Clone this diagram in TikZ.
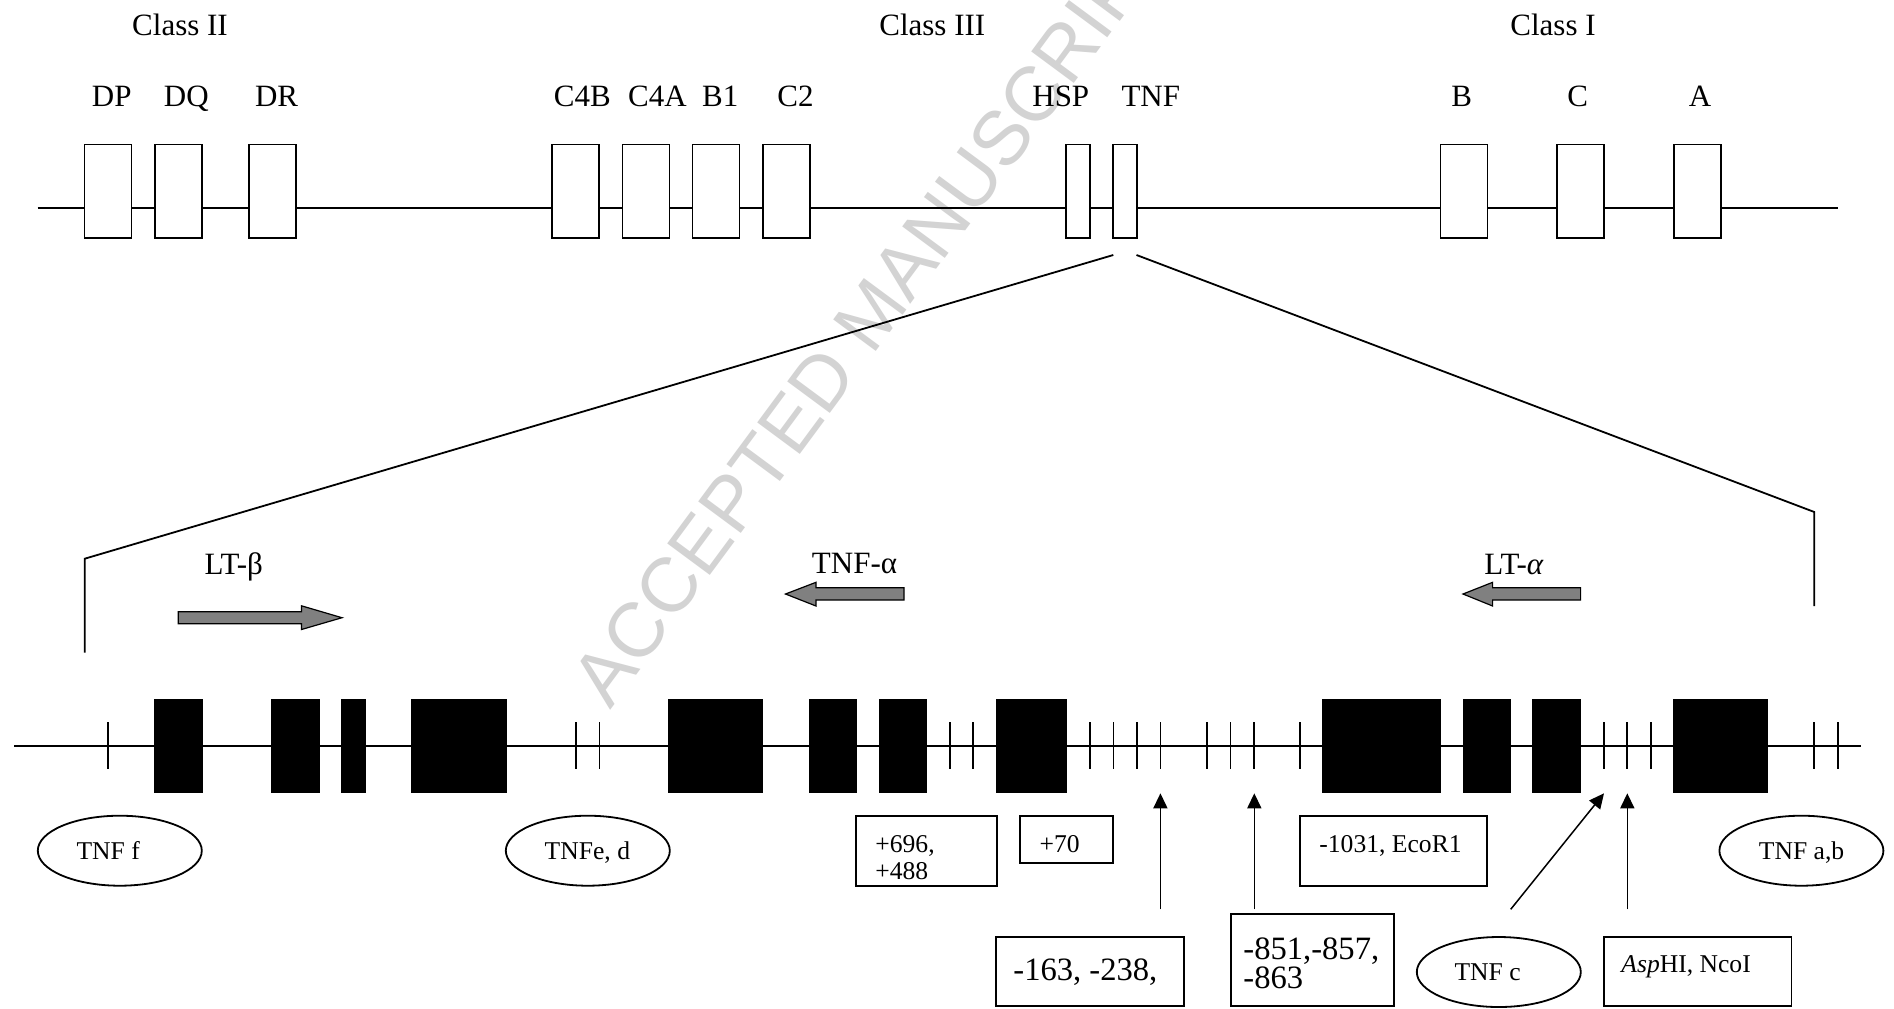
\documentclass[tikz,border=0pt]{standalone}
\usepackage{fontspec}
\setmainfont{Liberation Serif}
\newfontfamily\wmfont{Liberation Sans}
\usetikzlibrary{arrows.meta,shapes.geometric}
\definecolor{arrowgray}{HTML}{808080}
\definecolor{wmgray}{HTML}{D3D3D3}
\begin{document}
\begin{tikzpicture}[x=0.5pt,y=-0.5pt,
  ln/.style={line width=0.9pt},
  gbox/.style={draw, line width=0.8pt, fill=white, minimum height=46.85pt, minimum width=23.5pt, inner sep=0pt},
  nbox/.style={gbox, minimum width=12pt},
  exon/.style={fill=black},
  tickmark/.style={line width=0.85pt},
  toplab/.style={font=\fontsize{15.5pt}{18pt}\selectfont, anchor=base, inner sep=0pt},
  smalllab/.style={font=\fontsize{12.8pt}{15pt}\selectfont, inner sep=0pt},
  biglab/.style={font=\fontsize{16.3pt}{19pt}\selectfont, inner sep=0pt, anchor=base west},
  lbox/.style={draw, line width=0.9pt, inner sep=0pt},
  ell/.style={draw, ellipse, line width=0.9pt, minimum width=82pt, minimum height=35pt, inner sep=0pt},
  garrow/.style={fill=arrowgray, draw=black, line width=0.6pt},
  pin/.style={-{Triangle[length=7.5pt,width=7pt]}, line width=0.75pt}
]
\useasboundingbox (0,0) rectangle (1894,1008);
\clip (0,0) rectangle (1894,1008);
\fill[white] (0,0) rectangle (1894,1008);

% watermark
\node[font=\wmfont\fontsize{38.5pt}{40pt}\selectfont, text=wmgray, rotate=53.5, anchor=base west, inner sep=0pt] (wm) at (610,711) {ACCEPTED MANUSCRIPT};

% ---------- top map ----------
\coordinate (topL) at (37.5,208);
\coordinate (topR) at (1838,208);
\draw[ln] (topL) -- (topR);

\node[gbox] (DP)  at (108.1,191.15) {};
\node[gbox] (DQ)  at (178.2,191.15) {};
\node[gbox] (DR)  at (272.4,191.15) {};
\node[gbox] (C4B) at (575.6,191.15) {};
\node[gbox] (C4A) at (645.8,191.15) {};
\node[gbox] (B1)  at (716,191.15) {};
\node[gbox] (C2)  at (786.2,191.15) {};
\node[nbox] (HSP) at (1078,191.15) {};
\node[nbox] (TNF) at (1125,191.15) {};
\node[gbox] (BB)  at (1463.8,191.15) {};
\node[gbox] (CC)  at (1580.3,191.15) {};
\node[gbox] (AA)  at (1697.2,191.15) {};

\node[toplab] (cl2) at (180,35) {Class II};
\node[toplab] (cl3) at (932.3,35) {Class III};
\node[toplab] (cl1) at (1553,35) {Class I};

\node[toplab] (lDP)  at (111.7,106.7) {DP};
\node[toplab] (lDQ)  at (186.3,106.7) {DQ};
\node[toplab] (lDR)  at (276.6,106.7) {DR};
\node[toplab] (lC4B) at (582.3,106.7) {C4B};
\node[toplab] (lC4A) at (657.4,106.7) {C4A};
\node[toplab] (lB1)  at (720.2,106.7) {B1};
\node[toplab] (lC2)  at (795.5,106.7) {C2};
\node[toplab] (lHSP) at (1060.8,106.7) {HSP};
\node[toplab] (lTNF) at (1150.8,106.7) {TNF};
\node[toplab] (lB)   at (1461.8,106.7) {B};
\node[toplab] (lC)   at (1577.8,106.7) {C};
\node[toplab] (lA)   at (1700,106.7) {A};

% ---------- expansion lines ----------
\coordinate (expL0) at (1113.3,255);
\coordinate (expL1) at (84.7,558.7);
\coordinate (expL2) at (84.7,652.7);
\coordinate (expR0) at (1136.5,255);
\coordinate (expR1) at (1814.3,512);
\coordinate (expR2) at (1814.3,606);
\draw[ln] (expL0) -- (expL1) -- (expL2);
\draw[ln] (expR0) -- (expR1) -- (expR2);

% ---------- gene direction arrows ----------
\draw[garrow] (178.3,611.7) -- (301.5,611.7) -- (301.5,605.8) -- (342,617.7) -- (301.5,629.5) -- (301.5,623.7) -- (178.3,623.7) -- cycle;
\draw[garrow] (904,587.7) -- (816,587.7) -- (816,582.3) -- (785.5,594) -- (816,606) -- (816,600) -- (904,600) -- cycle;
\draw[garrow] (1580.6,587.7) -- (1492.6,587.7) -- (1492.6,582.3) -- (1463,594) -- (1492.6,606) -- (1492.6,600) -- (1580.6,600) -- cycle;

\node[toplab] (ltb) at (233.7,574) {LT-β};
\node[toplab] (tnfa) at (854.5,573.3) {TNF-α};
\node[toplab] (lta) at (1513.8,574) {LT-{\itshape α}};

% ---------- bottom map ----------
\coordinate (botL) at (14,745.7);
\coordinate (botR) at (1861.3,745.7);
\draw[ln] (botL) -- (botR);

\foreach \a/\b in {154.3/202.7, 270.6/319.6, 341/366, 411/506.7, 668.3/763.4, 809.3/857.4, 879.4/927, 996.4/1067.4, 1322.4/1441, 1463/1510.7, 1532.4/1581, 1673.3/1768.3}
  \fill[exon] (\a,698.7) rectangle (\b,793.3);

\foreach \x in {107.7, 576.3, 599.5, 950, 973.2, 1090.3, 1113.4, 1137.1, 1160.4, 1207.3, 1230.6, 1254.3, 1299.8, 1604, 1627.3, 1651, 1814.3, 1838}
  \draw[tickmark] (\x,722.3) -- (\x,769);

% ---------- ellipses ----------
\node[ell] (TNFf)  at (119.8,850.7) {};
\node[ell] (TNFed) at (587.8,850.7) {};
\node[ell] (TNFab) at (1801.4,850.7) {};
\node[ell] (TNFc)  at (1498.8,972) {};
\node[smalllab, anchor=base] (tTNFf)  at (108.2,859) {TNF f};
\node[smalllab, anchor=base] (tTNFed) at (587.4,859) {TNFe, d};
\node[smalllab, anchor=base] (tTNFab) at (1801.6,859) {TNF a,b};
\node[smalllab, anchor=base] (tTNFc)  at (1487.6,980.5) {TNF c};

% ---------- boxes ----------
\node[lbox, minimum width=70.35pt, minimum height=35.15pt] (b696)  at (926.35,850.85) {};
\node[lbox, minimum width=46.65pt, minimum height=23.5pt]  (b70)   at (1066.65,839.2) {};
\node[lbox, minimum width=93.3pt,  minimum height=35.15pt] (b1031) at (1393.6,850.85) {};
\node[lbox, minimum width=93.85pt, minimum height=34.35pt] (b163)  at (1090.15,971.65) {};
\node[lbox, minimum width=81.65pt, minimum height=45.85pt] (b851)  at (1312.35,960.15) {};
\node[lbox, minimum width=93.85pt, minimum height=34.35pt] (bAsp)  at (1697.65,971.65) {};

\node[smalllab, anchor=base west] (t696)  at (875,852) {+696,};
\node[smalllab, anchor=base west] (t488)  at (875,879.5) {+488};
\node[smalllab, anchor=base west] (t70)   at (1039.3,852) {+70};
\node[smalllab, anchor=base west] (t1031) at (1319,852) {-1031, EcoR1};
\node[biglab] (t163) at (1013,980) {-163, -238,};
\node[biglab] (t851) at (1243,959) {-851,-857,};
\node[biglab] (t863) at (1243,988) {-863};
\node[smalllab, anchor=base west] (tAsp) at (1621,972.3) {\textit{Asp}HI, NcoI};

% ---------- pointer arrows ----------
\coordinate (s1) at (1160.4,909.3);
\coordinate (e1) at (1160.4,793.3);
\coordinate (s2) at (1254.3,909.3);
\coordinate (e2) at (1254.3,793.3);
\coordinate (s3) at (1510.7,909.3);
\coordinate (e3) at (1604,793.3);
\coordinate (s4) at (1627.3,909.3);
\coordinate (e4) at (1627.3,793.3);
\draw[pin] (s1) -- (e1);
\draw[pin] (s2) -- (e2);
\draw[pin] (s3) -- (e3);
\draw[pin] (s4) -- (e4);
\end{tikzpicture}
\end{document}
